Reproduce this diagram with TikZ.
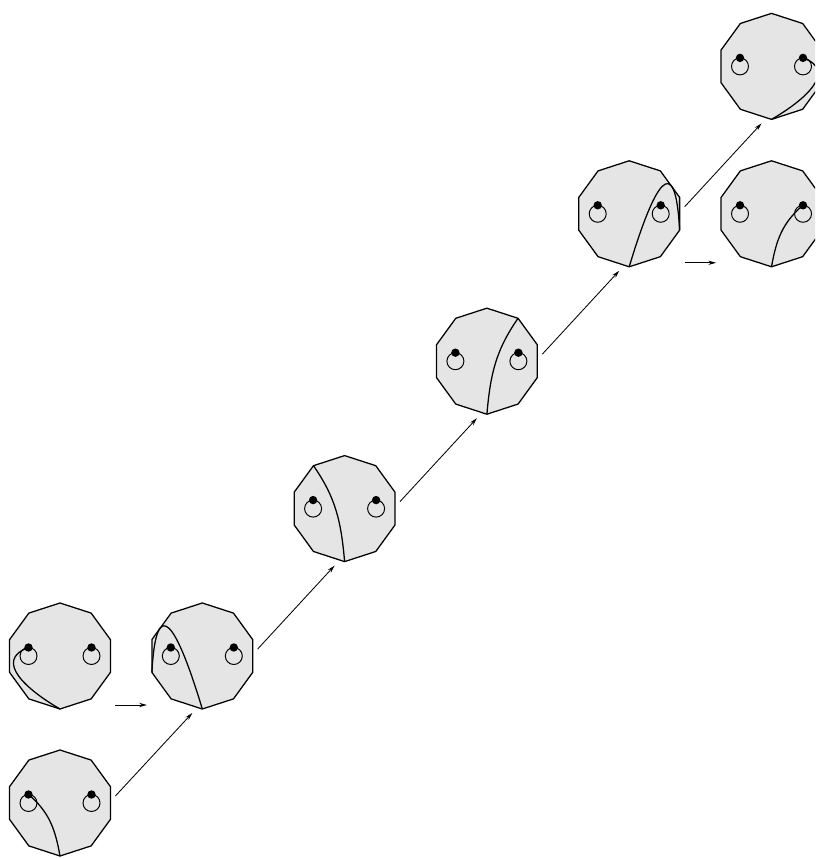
\documentclass[tikz,border=0pt]{standalone}
\usetikzlibrary{shapes.geometric,arrows.meta}

\tikzset{
  disc/.style={regular polygon, regular polygon sides=10, shape border rotate=18,
    minimum size=2.65cm, inner sep=0pt, outer sep=0pt, draw, line width=0.9pt,
    fill=gray!20},
  strand/.style={line width=0.9pt},
  move/.style={line width=0.6pt, -{Stealth[length=5.5pt,width=3pt]}}
}

\begin{document}
\begin{tikzpicture}[x=0.025cm,y=0.025cm]
  \useasboundingbox (0,0) rectangle (815,859);
  \clip (0,0) rectangle (815,859);
  % discs with two holes each
  \foreach \n/\x/\y in {d1/60/56, d2/60/203, d3/202.3/203, d4/344.6/350.4,
      d5/486.9/497.8, d6/629.2/645.2, d7/771.5/792.6, d8/771.5/645.2} {
    \node[disc] (\n) at (\x,\y) {};
    \draw[line width=0.7pt] ([shift={(-31.5,0)}]\n.center) circle (8.5);
    \draw[line width=0.7pt] ([shift={(31.5,0)}]\n.center) circle (8.5);
    \coordinate (\n-l) at ([shift={(-31.5,8.5)}]\n.center);
    \coordinate (\n-r) at ([shift={(31.5,8.5)}]\n.center);
    \coordinate (\n-s) at ([shift={(0,-53)}]\n.center);
    \coordinate (\n-e) at ([shift={(50.4,0)}]\n.center);
    \coordinate (\n-w) at ([shift={(-50.4,0)}]\n.center);
    \fill (\n-l) circle (4.2);
    \fill (\n-r) circle (4.2);
  }
  % arcs
  \draw[strand] (d1-l) to[out=-40,in=100] (d1-s);
  \draw[strand] (d2-l) to[out=200,in=150,looseness=1.4] (d2-s);
  \draw[strand] ([shift={(198:53)}]d3.center) .. controls +(4.4,82.4) and +(-25,83) .. (d3-s);
  \draw[strand] ([shift={(126:53)}]d4.center) to[out=-55,in=95] (d4-s);
  \draw[strand] ([shift={(54:53)}]d5.center) to[out=235,in=85] (d5-s);
  \draw[strand] ([shift={(-18:53)}]d6.center) .. controls +(-4.4,82.4) and +(25,83) .. (d6-s);
  \draw[strand] (d7-r) to[out=-20,in=30,looseness=1.4] (d7-s);
  \draw[strand] (d8-r) to[out=220,in=80] (d8-s);
  % moves
  \draw[move] ([shift={(5,-49)}]d2-e) -- ([shift={(-5,-49)}]d3-w);
  \draw[move] ([shift={(5,-49)}]d6-e) -- ([shift={(-5,-49)}]d8-w);
  \foreach \a/\b in {d1/d3, d3/d4, d4/d5, d5/d6, d6/d7}
    \draw[move] ([shift={(5,7)}]\a-e) -- ([shift={(-10,-4)}]\b-s);
\end{tikzpicture}
\end{document}
